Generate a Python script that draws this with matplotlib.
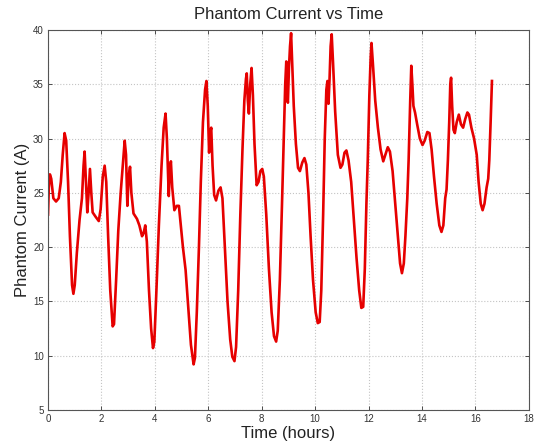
import matplotlib
matplotlib.use('Agg')
import matplotlib.pyplot as plt

# values (hours, amps)
t_hours = [0.0, 0.03, 0.07, 0.12, 0.2, 0.3, 0.4, 0.48, 0.55, 0.62, 0.68, 0.75, 0.82, 0.9, 0.95,
           1.0, 1.08, 1.18, 1.27, 1.33, 1.37, 1.42, 1.47, 1.52, 1.57, 1.62, 1.67, 1.78, 1.9, 1.97,
           2.05, 2.12, 2.18, 2.25, 2.33, 2.42, 2.47, 2.55, 2.63, 2.72, 2.8, 2.87, 2.92, 2.97,
           3.02, 3.07, 3.12, 3.2, 3.33, 3.42, 3.52, 3.58, 3.64, 3.7, 3.78, 3.86, 3.93, 3.98,
           4.05, 4.15, 4.25, 4.33, 4.4, 4.45, 4.52, 4.56, 4.6, 4.65, 4.73, 4.82, 4.9, 4.97,
           5.05, 5.15, 5.25, 5.35, 5.45, 5.5, 5.57, 5.65, 5.72, 5.8, 5.88, 5.93, 5.98,
           6.03, 6.07, 6.11, 6.16, 6.22, 6.29, 6.38, 6.46, 6.53, 6.62, 6.72, 6.82, 6.9, 6.98,
           7.04, 7.12, 7.2, 7.28, 7.35, 7.41, 7.44, 7.48, 7.52, 7.57, 7.62, 7.67, 7.73, 7.81,
           7.88, 7.95, 8.02, 8.08, 8.17, 8.27, 8.37, 8.46, 8.54, 8.6, 8.68, 8.76, 8.83, 8.88,
           8.92, 8.95, 8.98, 9.02, 9.06, 9.1, 9.14, 9.2, 9.28, 9.36, 9.43, 9.52, 9.6, 9.67,
           9.75, 9.83, 9.92, 10.02, 10.1, 10.17, 10.23, 10.3, 10.36, 10.42, 10.46, 10.5,
           10.54, 10.58, 10.62, 10.67, 10.75, 10.85, 10.95, 11.02, 11.1, 11.17, 11.25, 11.35,
           11.45, 11.55, 11.65, 11.73, 11.8, 11.86, 11.92, 11.97, 12.03, 12.08, 12.11, 12.16,
           12.25, 12.35, 12.45, 12.55, 12.63, 12.72, 12.8, 12.9, 13.0, 13.1, 13.18, 13.25,
           13.32, 13.38, 13.45, 13.5, 13.56, 13.6, 13.64, 13.68, 13.74, 13.82, 13.92, 14.02,
           14.1, 14.2, 14.28, 14.36, 14.45, 14.55, 14.65, 14.73, 14.8, 14.87, 14.92, 14.97,
           15.02, 15.06, 15.09, 15.13, 15.18, 15.23, 15.3, 15.38, 15.46, 15.54, 15.62, 15.7,
           15.76, 15.85, 15.95, 16.05, 16.12, 16.2, 16.27, 16.34, 16.42, 16.48, 16.52, 16.57,
           16.62]
current_a = [23.0, 25.5, 26.7, 26.3, 24.5, 24.2, 24.5, 26.0, 28.5, 30.5, 29.8, 26.0, 21.0, 16.5, 15.7,
             16.5, 19.5, 22.5, 24.5, 27.5, 28.8, 26.0, 23.2, 25.0, 27.2, 25.0, 23.2, 22.8, 22.4, 23.5,
             26.5, 27.5, 26.0, 21.0, 16.0, 12.7, 12.9, 17.0, 21.5, 25.0, 27.5, 29.8, 28.5, 23.8,
             26.5, 27.4, 25.0, 23.1, 22.6, 22.0, 21.0, 21.3, 22.0, 20.5, 16.0, 12.5, 10.7, 11.3,
             15.5, 22.0, 27.5, 31.0, 32.3, 30.0, 24.7, 27.0, 27.9, 25.5, 23.4, 23.8, 23.8, 22.0,
             20.0, 17.9, 14.5, 11.0, 9.2, 9.8, 14.0, 20.0, 26.0, 31.5, 34.5, 35.3, 33.0,
             28.7, 30.5, 31.0, 27.5, 24.8, 24.3, 25.2, 25.5, 24.5, 20.0, 15.0, 11.5, 9.9, 9.5,
             10.8, 16.0, 23.0, 29.0, 33.5, 35.5, 36.0, 33.5, 32.3, 35.0, 36.5, 34.0, 29.5, 25.7,
             26.0, 27.0, 27.2, 26.5, 23.0, 18.0, 14.0, 11.8, 11.3, 12.3, 17.0, 24.0, 30.5, 35.0,
             37.1, 34.0, 33.3, 36.5, 38.5, 39.7, 37.0, 33.0, 29.5, 27.3, 27.0, 27.8, 28.2, 27.6,
             25.0, 21.0, 17.0, 14.0, 13.0, 13.1, 16.0, 23.0, 30.0, 34.5, 35.3, 33.2,
             35.5, 38.5, 39.6, 37.0, 32.5, 28.5, 27.3, 27.6, 28.7, 28.9, 28.0, 26.0,
             22.5, 19.0, 16.0, 14.4, 14.5, 18.0, 24.0, 28.0, 34.0, 37.5, 38.8, 37.0,
             33.5, 31.0, 29.0, 27.9, 28.5, 29.2, 28.8, 27.0, 24.0, 21.0, 18.5, 17.6,
             18.5, 21.0, 24.5, 28.0, 33.5, 36.7, 35.0, 33.0, 32.4, 31.3, 30.0, 29.4,
             29.8, 30.6, 30.5, 29.0, 26.5, 24.0, 22.0, 21.4, 22.0, 24.5, 25.3, 28.0,
             31.5, 35.0, 35.6, 33.0, 30.8, 30.5, 31.5, 32.2, 31.3, 31.0, 31.8, 32.4,
             32.2, 31.0, 30.0, 28.5, 26.0, 24.0, 23.4, 24.0, 25.5, 26.3, 28.0, 31.5,
             35.3]

x_ticks = [0, 2, 4, 6, 8, 10, 12, 14, 16, 18]
y_ticks = [5, 10, 15, 20, 25, 30, 35, 40]

plt.rcParams['font.family'] = ['Liberation Sans', 'DejaVu Sans']

fig = plt.figure(figsize=(5.36, 4.45), dpi=100)
ax = fig.add_axes([0.0896, 0.0787, 0.897, 0.854])

ax.plot(t_hours, current_a, color='#e60000', linewidth=1.9, solid_joinstyle='round')

ax.set_xlim(0, 18)
ax.set_ylim(5, 40)
ax.set_xticks(x_ticks)
ax.set_yticks(y_ticks)
ax.tick_params(direction='in', length=3, width=0.6, labelsize=7, colors='#333333',
               top=True, right=True, pad=3)
ax.grid(True, linestyle=':', color='#c4c4c4', linewidth=0.8)
for s in ax.spines.values():
    s.set_color('#555555')
    s.set_linewidth(0.8)

ax.set_title('Phantom Current vs Time', fontsize=12, color='#222222', pad=8)
ax.set_xlabel('Time (hours)', fontsize=12, color='#222222', labelpad=1)
ax.set_ylabel('Phantom Current (A)', fontsize=12, color='#222222', labelpad=2)

fig.savefig('out.png', dpi=100)
